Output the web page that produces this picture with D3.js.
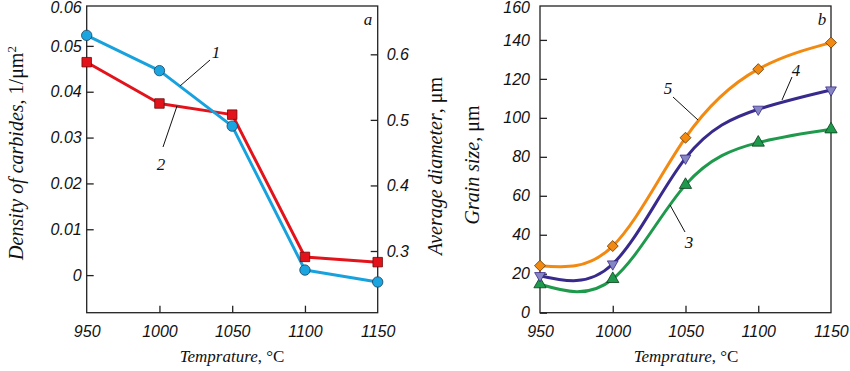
<!DOCTYPE html>
<html><head><meta charset="utf-8">
<script src="https://cdn.jsdelivr.net/npm/d3@7"></script>
<style>
html,body{margin:0;padding:0;background:#fff;}
svg{display:block;}
.tick-label{font-family:"Liberation Sans",Arial,sans-serif;font-style:italic;font-size:16px;fill:#111;}
.serif{font-family:"Liberation Serif","Times New Roman",serif;font-size:17px;fill:#111;}
.ytitle{font-family:"Liberation Serif","Times New Roman",serif;font-size:20px;fill:#111;}
</style>
</head><body>
<svg id="chart" width="850" height="371"></svg>
<script>
// ---------- DATA ----------
const temps = [950, 1000, 1050, 1100, 1150];
const xTicks = [950, 1000, 1050, 1100, 1150];
// panel a
const density = [0.0523, 0.0446, 0.0325, 0.0011, -0.0015];     // curve 1 (left axis)
const diameter = [0.588, 0.525, 0.508, 0.291, 0.283];          // curve 2 (right axis)
const densityTicks = [0, 0.01, 0.02, 0.03, 0.04, 0.05];
const densityTickLabels = ["0", "0.01", "0.02", "0.03", "0.04", "0.05"];
const densityTopLabel = "0.06";
const diameterTicks = [0.3, 0.4, 0.5, 0.6];
const diameterTickLabels = ["0.3", "0.4", "0.5", "0.6"];
// panel b
const grain3 = [14.6, 17.3, 65.6, 87.3, 94.1];
const grain4 = [19.0, 25.0, 79.3, 104.4, 114.3];
const grain5 = [24.1, 34.2, 89.8, 125.0, 138.6];
const grainTicks = [0, 20, 40, 60, 80, 100, 120, 140];
const grainTickLabels = ["0", "20", "40", "60", "80", "100", "120", "140"];
const grainTopLabel = "160";

const svg = d3.select("#chart");
const plotTop = 6, plotBottom = 312.7;

// ---------- PANEL A ----------
const xa = d3.scaleLinear().domain([950, 1150]).range([86.7, 377.7]);
const yaL = d3.scaleLinear().domain([-0.0082, 0.0587]).range([plotBottom, plotTop]);
const yaR = d3.scaleLinear().domain([0.2059, 0.6737]).range([plotBottom, plotTop]);

// ---------- PANEL B ----------
const xb = d3.scaleLinear().domain([950, 1150]).range([540, 831]);
const yb = d3.scaleLinear().domain([0, 157.4]).range([plotBottom, plotTop]);

function frame(x) {
  const [x0, x1] = x.range();
  svg.append("rect").attr("x", x0).attr("y", plotTop).attr("width", x1 - x0).attr("height", plotBottom - plotTop)
    .attr("fill", "none").attr("stroke", "#222").attr("stroke-width", 1.3);
}
frame(xa);
frame(xb);

function bottomAxis(x) {
  const g = svg.append("g").attr("transform", `translate(0,${plotBottom})`);
  g.call(d3.axisBottom(x).tickValues(xTicks).tickSize(-7).tickPadding(13).tickFormat(d3.format("d")));
  g.select(".domain").remove();
  g.selectAll(".tick line").attr("stroke", "#222").attr("stroke-width", 1.3)
    .attr("display", d => (d === 950 || d === 1150) ? "none" : null);
  g.selectAll(".tick text").attr("class", "tick-label").attr("font-size", null).attr("font-family", null);
}
bottomAxis(xa);
bottomAxis(xb);

function leftAxis(y, x0, vals, labels, topLabel, pad) {
  const g = svg.append("g").attr("transform", `translate(${x0},0)`);
  g.call(d3.axisLeft(y).tickValues(vals).tickSize(-7).tickPadding(pad).tickFormat((d, i) => labels[i]));
  g.select(".domain").remove();
  g.selectAll(".tick line").attr("stroke", "#222").attr("stroke-width", 1.3);
  g.selectAll(".tick text").attr("class", "tick-label").attr("font-size", null).attr("font-family", null);
  g.append("text").attr("class", "tick-label").attr("x", -pad).attr("y", y(y.domain()[1]) + 1.5)
    .attr("dy", "0.32em").attr("text-anchor", "end").text(topLabel);
}
leftAxis(yaL, 86.7, densityTicks, densityTickLabels, densityTopLabel, 5);
leftAxis(yb, 540, grainTicks, grainTickLabels, grainTopLabel, 10);

{
  const g = svg.append("g").attr("transform", `translate(377.7,0)`);
  g.call(d3.axisRight(yaR).tickValues(diameterTicks).tickSize(-7).tickPadding(9).tickFormat((d, i) => diameterTickLabels[i]));
  g.select(".domain").remove();
  g.selectAll(".tick line").attr("stroke", "#222").attr("stroke-width", 1.3);
  g.selectAll(".tick text").attr("class", "tick-label").attr("font-size", null).attr("font-family", null);
}

// ---------- LINES ----------
function drawLine(x, y, vals, color, curve) {
  const line = d3.line().x((d, i) => x(temps[i])).y(d => y(d)).curve(curve);
  svg.append("path").datum(vals).attr("d", line).attr("fill", "none")
    .attr("stroke", color).attr("stroke-width", 3).attr("stroke-linejoin", "round");
}
function drawMarkers(x, y, vals, type, size, fill, stroke, rot) {
  const sym = d3.symbol().type(type).size(size);
  svg.append("g").selectAll("path").data(vals).join("path")
    .attr("d", sym)
    .attr("transform", (d, i) => `translate(${x(temps[i])},${y(d)}) rotate(${rot || 0})`)
    .attr("fill", fill).attr("stroke", stroke).attr("stroke-width", 0.8);
}

drawLine(xa, yaR, diameter, "#e3131b", d3.curveLinear);
drawLine(xa, yaL, density, "#17a2de", d3.curveLinear);
drawMarkers(xa, yaR, diameter, d3.symbolSquare, 90, "#e3131b", "#6b0a0a");
drawMarkers(xa, yaL, density, d3.symbolCircle, 85, "#1aa5e0", "#1b3f5e");

drawLine(xb, yb, grain3, "#1f9a4c", d3.curveNatural);
drawLine(xb, yb, grain4, "#372a8c", d3.curveNatural);
drawLine(xb, yb, grain5, "#f28a12", d3.curveNatural);
drawMarkers(xb, yb, grain3, d3.symbolTriangle, 65, "#1f9a4c", "#0a3d1c");
drawMarkers(xb, yb, grain4, d3.symbolTriangle, 50, "#8686c4", "#372a8c", 180);
drawMarkers(xb, yb, grain5, d3.symbolSquare, 60, "#f28a12", "#6a3a00", 45);

// ---------- ANNOTATIONS ----------
function leader(x1, y1, x2, y2) {
  svg.append("line").attr("x1", x1).attr("y1", y1).attr("x2", x2).attr("y2", y2)
    .attr("stroke", "#111").attr("stroke-width", 1);
}
function label(x, y, t) {
  svg.append("text").attr("class", "serif").attr("font-style", "italic")
    .attr("x", x).attr("y", y).attr("text-anchor", "middle").attr("dy", "0.35em").text(t);
}
leader(210, 60, 180, 86); label(216, 52, "1");
leader(163, 147, 177, 106); label(161, 164, "2");
label(368, 19, "a");
label(822, 19, "b");
leader(673, 97, 698, 120); label(668, 88, "5");
leader(792, 77, 782, 100); label(796, 70, "4");
leader(685, 232, 670, 205); label(689, 242, "3");

// axis titles
function xTitle(cx) {
  const t = svg.append("text").attr("class", "serif").attr("x", cx).attr("y", 362).attr("text-anchor", "middle");
  t.append("tspan").attr("font-style", "italic").text("Temprature");
  t.append("tspan").text(", °C");
}
xTitle(232);
xTitle(686);

function yTitle(bx, cy, parts) {
  const t = svg.append("text").attr("class", "ytitle").attr("text-anchor", "middle")
    .attr("transform", `translate(${bx},${cy}) rotate(-90)`);
  parts.forEach(p => {
    const s = t.append("tspan").text(p.t);
    if (p.i) s.attr("font-style", "italic");
    if (p.sup) s.attr("baseline-shift", "super").attr("font-size", "13px");
  });
}
yTitle(23, 153, [{t: "Density of carbides", i: true}, {t: ", 1/μm"}, {t: "2", sup: true}]);
yTitle(442, 166, [{t: "Average diameter", i: true}, {t: ", μm"}]);
yTitle(479, 165, [{t: "Grain size", i: true}, {t: ", μm"}]);
</script>
</body></html>
